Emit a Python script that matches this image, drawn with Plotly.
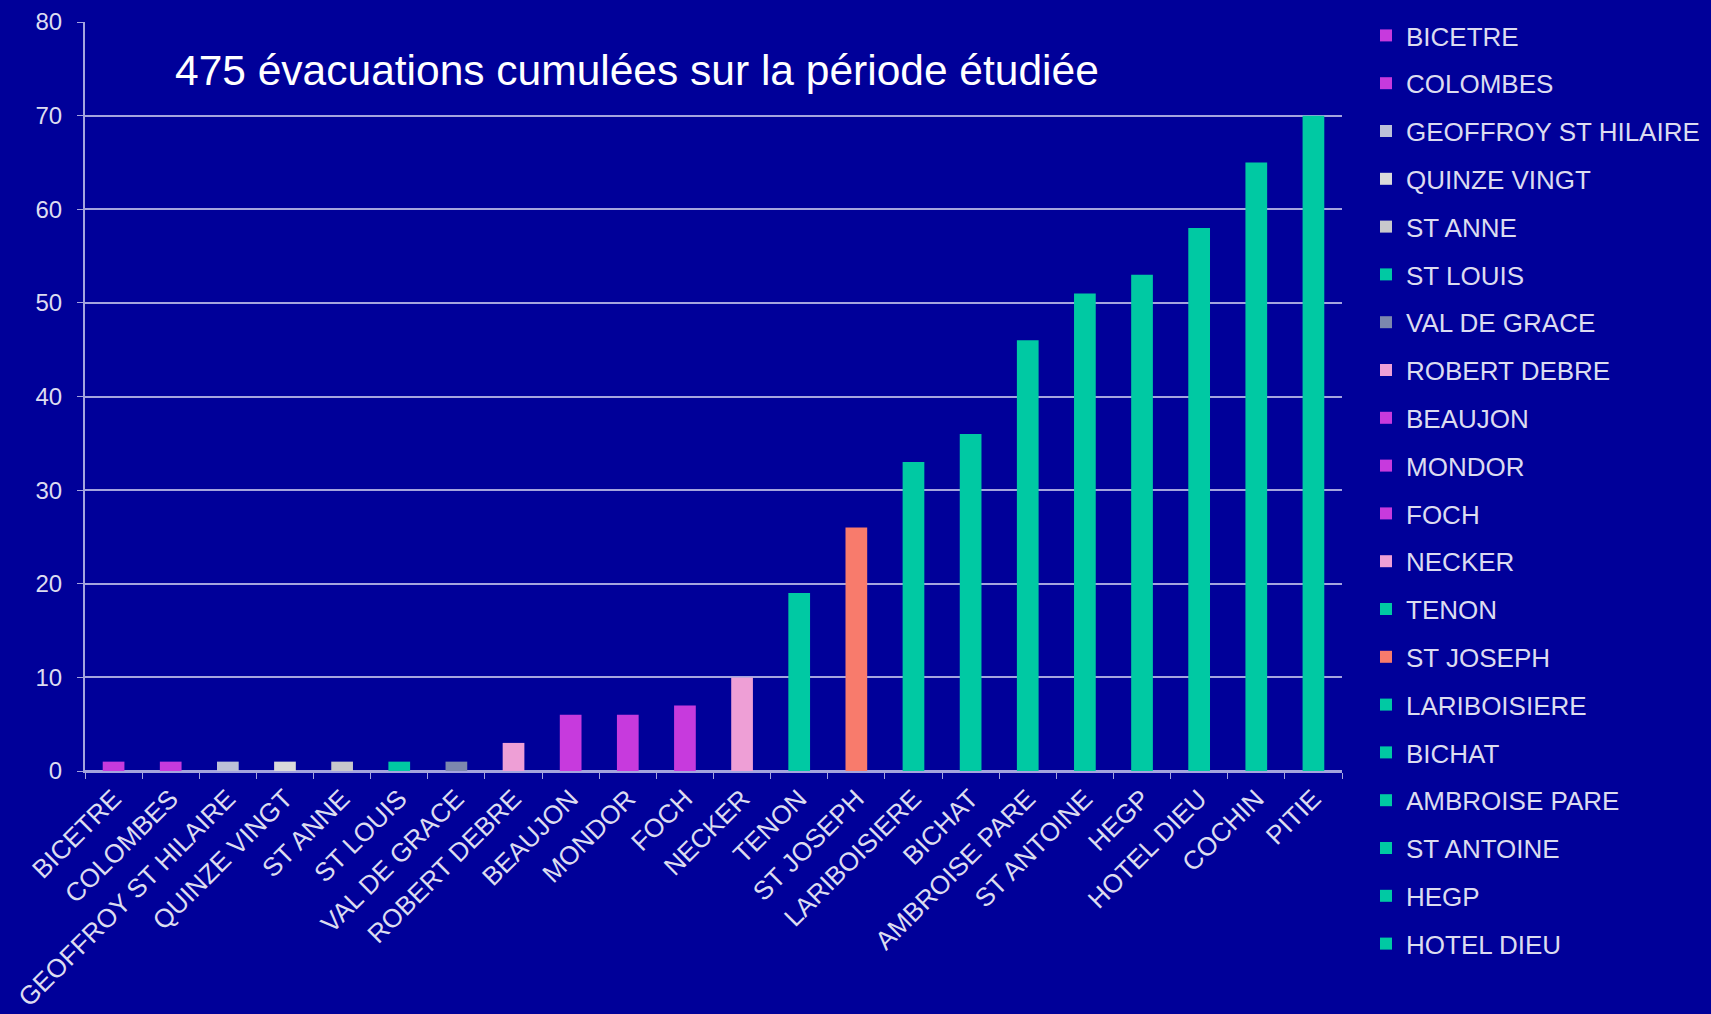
import plotly.graph_objects as go

hospitals = ["BICETRE", "COLOMBES", "GEOFFROY ST HILAIRE", "QUINZE VINGT", "ST ANNE",
             "ST LOUIS", "VAL DE GRACE", "ROBERT DEBRE", "BEAUJON", "MONDOR", "FOCH",
             "NECKER", "TENON", "ST JOSEPH", "LARIBOISIERE", "BICHAT", "AMBROISE PARE",
             "ST ANTOINE", "HEGP", "HOTEL DIEU", "COCHIN", "PITIE"]
evacuations = [1, 1, 1, 1, 1, 1, 1, 3, 6, 6, 7, 10, 19, 26, 33, 36, 46, 51, 53, 58, 65, 70]
bar_colors = ["#C73ADD", "#C73ADD", "#BCC0D8", "#DADADA", "#C8C8CC",
              "#00C9A3", "#7C87AE", "#EE9FD6", "#C73ADD", "#C73ADD", "#C73ADD",
              "#EE9FD6", "#00C9A3", "#F87B6C", "#00C9A3", "#00C9A3", "#00C9A3",
              "#00C9A3", "#00C9A3", "#00C9A3", "#00C9A3", "#00C9A3"]
legend_count = 20
title_text = "475 évacuations cumulées sur la période étudiée"

BG = "#000099"
LINE = "#A4A4DE"
TXT = "#DCDCF0"
FONT = "Liberation Sans, Arial, sans-serif"

fig = go.Figure()
for i, (h, v, c) in enumerate(zip(hospitals, evacuations, bar_colors)):
    fig.add_trace(go.Bar(
        x=[h], y=[v], name=h, width=0.38,
        marker=dict(color=c, line=dict(width=0)),
        legendgroup=h, showlegend=i < legend_count,
    ))

fig.update_layout(
    width=1711, height=1014,
    margin=dict(l=85, r=369, t=22, b=243),
    paper_bgcolor=BG, plot_bgcolor=BG,
    barmode="overlay",
    font=dict(family=FONT, color=TXT),
    legend=dict(
        x=1366 / 1711, xref="container", xanchor="left",
        y=1 - 12 / 1014, yref="container", yanchor="top",
        font=dict(size=26, color=TXT, family=FONT),
        tracegroupgap=11, bgcolor="rgba(0,0,0,0)", maxheight=1010,
    ),
    annotations=[dict(
        text=title_text, xref="paper", yref="paper",
        x=(173 - 85) / 1257, y=(771 - 70) / 749,
        xanchor="left", yanchor="middle", showarrow=False,
        font=dict(size=42.5, color="white", family=FONT),
    )],
)
fig.update_xaxes(
    categoryorder="array", categoryarray=hospitals,
    showline=True, linecolor=LINE, linewidth=2,
    ticks="outside", tickson="boundaries", ticklen=6, tickcolor=LINE,
    tickangle=-45, tickfont=dict(size=26, color=TXT, family=FONT),
    showgrid=False, automargin=False,
)
fig.update_yaxes(
    range=[0, 80], dtick=10,
    showgrid=True, gridcolor=LINE, gridwidth=2,
    zeroline=True, zerolinecolor=LINE, zerolinewidth=2,
    showline=True, linecolor=LINE, linewidth=2,
    ticks="outside", ticklen=6, tickcolor=LINE,
    tickfont=dict(size=24, color=TXT, family=FONT),
    ticklabelstandoff=10, automargin=False,
)

fig.write_html("out.html", config={"displayModeBar": False},
               post_script="document.body.style.margin='0';document.body.style.overflow='hidden';")
